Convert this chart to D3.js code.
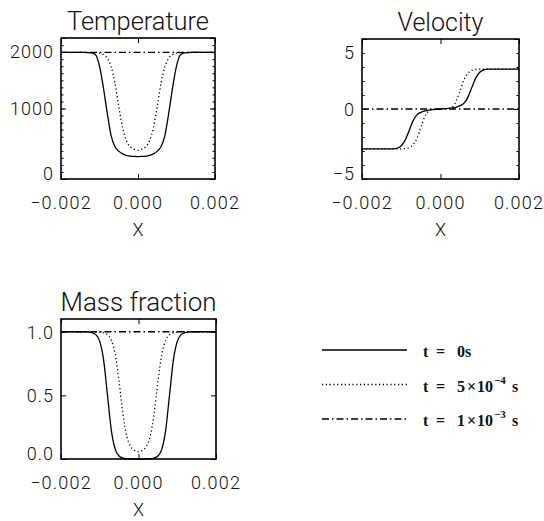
<!DOCTYPE html>
<html>
<head>
<meta charset="utf-8">
<script src="https://cdn.jsdelivr.net/npm/d3@7"></script>
<style>
body { margin: 0; background: #fff; }
svg { display: block; }
.lbl { font-family: Roboto, "DejaVu Sans", sans-serif; font-weight: 300; fill: #111; }
.leg { font-family: "Liberation Serif", serif; font-weight: bold; fill: #111; }
</style>
</head>
<body>
<svg width="544" height="521"></svg>
<script>
// x grid shared by the profiles
const xs = [-0.0020,-0.0019,-0.0018,-0.0017,-0.0016,-0.0015,-0.0014,-0.0013,-0.0012,-0.0011,
	-0.0010,-0.0009,-0.0008,-0.0007,-0.0006,-0.0005,-0.0004,-0.0003,-0.0002,-0.0001,
	0,0.0001,0.0002,0.0003,0.0004,0.0005,0.0006,0.0007,0.0008,0.0009,
	0.0010,0.0011,0.0012,0.0013,0.0014,0.0015,0.0016,0.0017,0.0018,0.0019,0.0020];
const xEnds = [-0.002, 0.002];

// temperature
const temp0 = [1795,1795,1795,1795,1795,1795,1795,1793,1788,1760,1600,1300,940,620,460,395,356,336,325,320,
	318,320,325,336,356,395,460,620,940,1300,1600,1760,1788,1793,1795,1795,1795,1795,1795,1795,1795];
const temp5 = [1795,1795,1795,1795,1795,1795,1795,1794,1793,1791,1784,1765,1715,1597,1363,1029,724,541,457,423,
	410,423,457,541,724,1029,1363,1597,1715,1765,1784,1791,1793,1794,1795,1795,1795,1795,1795,1795,1795];
const temp10 = [1795, 1795];

// velocity
const vel0 = [-2.85,-2.85,-2.85,-2.85,-2.85,-2.85,-2.85,-2.85,-2.85,-2.80,-2.62,-2.22,-1.55,-0.85,-0.42,-0.24,-0.14,-0.08,-0.04,-0.02,
	0,0.02,0.04,0.08,0.14,0.24,0.42,0.85,1.55,2.22,2.62,2.80,2.85,2.85,2.85,2.85,2.85,2.85,2.85,2.85,2.85];
const vel5 = [-2.85,-2.85,-2.85,-2.85,-2.85,-2.85,-2.85,-2.85,-2.85,-2.85,-2.85,-2.83,-2.76,-2.55,-2.1,-1.3,-0.55,-0.15,-0.04,-0.01,
	0,0.01,0.04,0.15,0.55,1.3,2.1,2.55,2.76,2.83,2.85,2.85,2.85,2.85,2.85,2.85,2.85,2.85,2.85,2.85,2.85];
const vel10 = [0, 0];

// mass fraction
const mass0 = [1,1,1,1,1,1,1,0.998,0.993,0.977,0.924,0.777,0.5,0.223,0.076,0.023,0.007,0.002,0.001,0,
	0,0,0.001,0.002,0.007,0.023,0.076,0.223,0.5,0.777,0.924,0.977,0.993,0.998,1,1,1,1,1,1,1];
const mass5 = [1,1,1,1,1,1,1,1,1,0.999,0.997,0.992,0.977,0.932,0.819,0.604,0.35,0.176,0.097,0.067,
	0.057,0.067,0.097,0.176,0.35,0.604,0.819,0.932,0.977,0.992,0.997,0.999,1,1,1,1,1,1,1,1,1];
const mass10 = [1, 1];

// ticks
const xTicks = [-0.002, 0, 0.002];
const tempTicks = [0, 1000, 2000];
const tempMinor = d3.range(100, 2000, 100);
const velTicks = [-5, 0, 5];
const velMinor = [-4,-3,-2,-1,1,2,3,4];
const massTicks = [0, 0.5, 1.0];

const dashes = { solid: null, dot: '1.2,2.6', dashdot: '7,3,1.5,3' };

const svg = d3.select('svg');

function panel(opt){
	var g = svg.append('g');
	var x = d3.scaleLinear().domain([-0.002, 0.002]).range([opt.left, opt.right]);
	var y = d3.scaleLinear().domain(opt.ydom).range([opt.bottom, opt.top]);

	// curves
	var line = d3.line().x(d => x(d[0])).y(d => y(d[1])).curve(d3.curveMonotoneX);
	opt.series.forEach(function(s){
		g.append('path')
		.datum(s.xs.map((v,i) => [v, s.ys[i]]))
		.attr('d', line)
		.attr('fill', 'none').attr('stroke', '#000').attr('stroke-width', 1.3)
		.attr('stroke-dasharray', dashes[s.style]);
	});

	// tick marks on all four sides, pointing in
	var ax = [
		[d3.axisBottom(x), 'translate(0,' + opt.bottom + ')', xTicks, []],
		[d3.axisTop(x), 'translate(0,' + opt.top + ')', xTicks, []],
		[d3.axisLeft(y), 'translate(' + opt.left + ',0)', opt.yticks, opt.yminor],
		[d3.axisRight(y), 'translate(' + opt.right + ',0)', opt.yticks, opt.yminor]
	];
	ax.forEach(function(a){
		var major = a[0].tickValues(a[2]).tickSize(-5).tickFormat('');
		g.append('g').attr('transform', a[1]).call(major).call(s => s.select('.domain').remove())
		.selectAll('line').attr('stroke', '#000');
		if(a[3].length){
			var minor = a[0].tickValues(a[3]).tickSize(-2.5).tickFormat('');
			g.append('g').attr('transform', a[1]).call(minor).call(s => s.select('.domain').remove())
			.selectAll('line').attr('stroke', '#000');
		}
	});

	// frame
	g.append('rect')
	.attr('x', opt.left).attr('y', opt.top)
	.attr('width', opt.right - opt.left).attr('height', opt.bottom - opt.top)
	.attr('fill', 'none').attr('stroke', '#000').attr('stroke-width', 1.6);

	// x labels
	g.selectAll('text.xl').data(xTicks).enter().append('text')
	.attr('class', 'lbl')
	.attr('x', d => x(d)).attr('y', opt.bottom + 30)
	.attr('text-anchor', 'middle').style('font-size', '18px').style('letter-spacing', '1.2px')
	.text(d3.format('.3f'));

	// y labels, kept a little inside the frame ends
	g.selectAll('text.yl').data(opt.yticks).enter().append('text')
	.attr('class', 'lbl')
	.attr('x', opt.left - 7)
	.attr('y', d => Math.max(opt.top + 13, Math.min(opt.bottom - 6, y(d))) + 6.5)
	.attr('text-anchor', 'end').style('font-size', '18px').style('letter-spacing', '1px')
	.text(opt.yfmt);

	// axis title and panel title
	g.append('text').attr('class', 'lbl')
	.attr('x', (opt.left + opt.right)/2).attr('y', opt.bottom + 57)
	.attr('text-anchor', 'middle').style('font-size', '18px').text('X');

	g.append('text').attr('class', 'lbl')
	.attr('x', (opt.left + opt.right)/2).attr('y', opt.top - 8)
	.attr('text-anchor', 'middle').style('font-size', '26px')
	.attr('textLength', opt.titleW).attr('lengthAdjust', 'spacingAndGlyphs')
	.text(opt.title);
}

panel({
	title: 'Temperature', titleW: 142,
	left: 61, right: 215, top: 38, bottom: 179,
	ydom: [0, 2000], yticks: tempTicks, yminor: tempMinor, yfmt: d3.format('d'),
	series: [
		{ xs: xs, ys: temp0, style: 'solid' },
		{ xs: xs, ys: temp5, style: 'dot' },
		{ xs: xEnds, ys: temp10, style: 'dashdot' }
	]
});

panel({
	title: 'Velocity', titleW: 86,
	left: 362, right: 519, top: 39, bottom: 179,
	ydom: [-5, 5], yticks: velTicks, yminor: velMinor, yfmt: d3.format('d'),
	series: [
		{ xs: xs, ys: vel0, style: 'solid' },
		{ xs: xs, ys: vel5, style: 'dot' },
		{ xs: xEnds, ys: vel10, style: 'dashdot' }
	]
});

panel({
	title: 'Mass fraction', titleW: 156,
	left: 61, right: 216, top: 319, bottom: 459,
	ydom: [0, 1.1], yticks: massTicks, yminor: [], yfmt: d3.format('.1f'),
	series: [
		{ xs: xs, ys: mass0, style: 'solid' },
		{ xs: xs, ys: mass5, style: 'dot' },
		{ xs: xEnds, ys: mass10, style: 'dashdot' }
	]
});

// legend
const legStyles = ['solid', 'dot', 'dashdot'];
const legMant = ['0', '5', '1'];
const legExp = [null, '\u22124', '\u22123'];
const legY = d3.scalePoint().domain(d3.range(3)).range([350, 419]);

const leg = svg.append('g');
legStyles.forEach(function(st, i){
	var yy = legY(i);
	leg.append('line')
	.attr('x1', 322).attr('x2', 407).attr('y1', yy).attr('y2', yy)
	.attr('stroke', '#000').attr('stroke-width', 1.6)
	.attr('stroke-dasharray', dashes[st]);

	var t = leg.append('text').attr('class', 'leg').attr('y', yy + 7).style('font-size', '16px');
	t.append('tspan').attr('x', 423).text('t');
	t.append('tspan').attr('x', 436).text('=');
	if(legExp[i] === null){
		t.append('tspan').attr('x', 457).text(legMant[i] + 's');
	} else {
		t.append('tspan').attr('x', 457).text(legMant[i]);
		t.append('tspan').attr('x', 467).text('\u00d7');
		t.append('tspan').attr('x', 477).text('10');
		t.append('tspan').attr('x', 494).attr('dy', -8).style('font-size', '11px').text(legExp[i]);
		t.append('tspan').attr('x', 512).attr('dy', 8).text('s');
	}
});
</script>
</body>
</html>
